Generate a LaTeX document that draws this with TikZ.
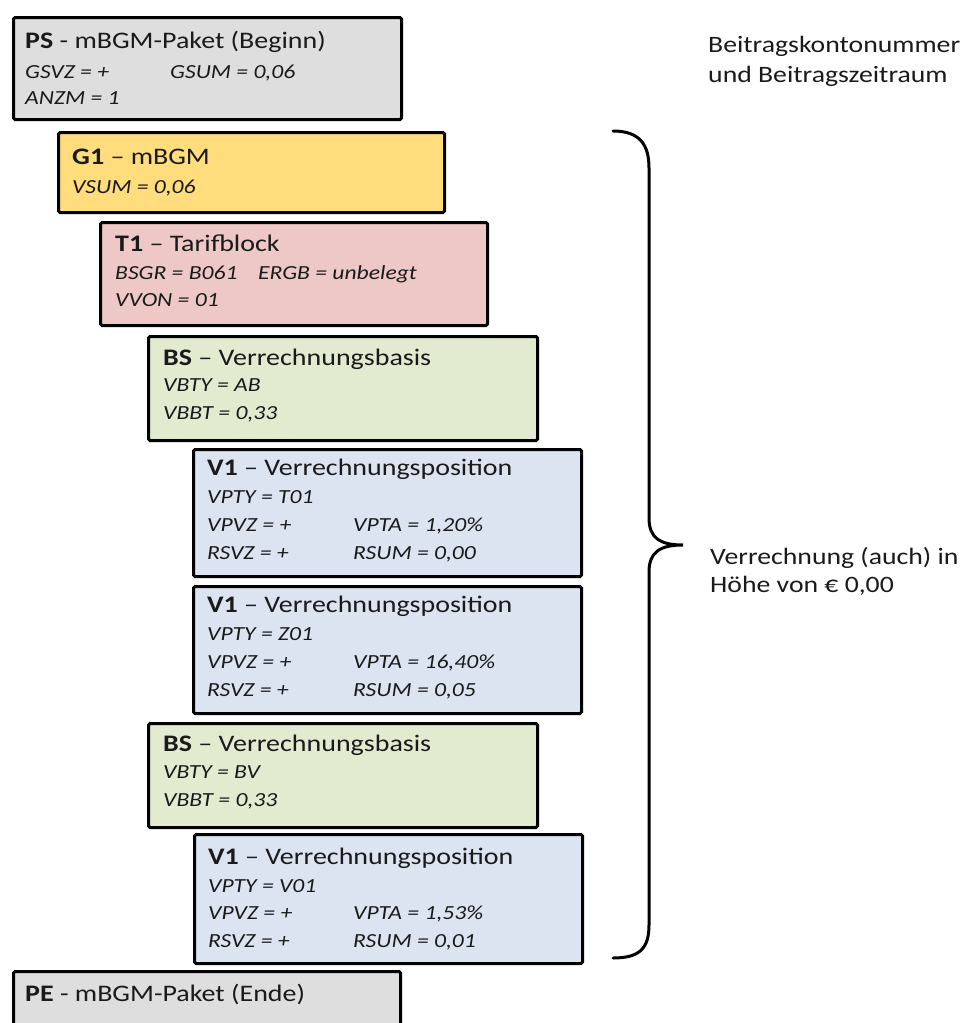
\documentclass[tikz,border=0pt]{standalone}
\usepackage{fontspec}
\setmainfont{Carlito}[FakeStretch=1.18]
\definecolor{cgray}{HTML}{DEDEDE}
\definecolor{cyellow}{HTML}{FFDC7C}
\definecolor{cpink}{HTML}{EEC7C7}
\definecolor{cgreen}{HTML}{E2EAD0}
\definecolor{cblue}{HTML}{DCE4F2}
\definecolor{ctext}{HTML}{1A1A1A}
\tikzset{
  box/.style={draw=black, line width=3pt, rounded corners=1.5pt, anchor=north west, inner sep=0pt},
  ttl/.style={anchor=base west, inner sep=0pt, text=ctext, font=\fontsize{23.7}{27}\selectfont},
  att/.style={anchor=base west, inner sep=0pt, text=ctext, font=\fontsize{20}{24}\selectfont\itshape},
  note/.style={anchor=base west, inner sep=0pt, text=ctext, font=\fontsize{23.5}{27}\selectfont},
  bracestyle/.style={draw=black, line width=3pt, line cap=round}
}
\begin{document}
\begin{tikzpicture}[x=1pt,y=-1pt]
\useasboundingbox (0,0) rectangle (965,1023);
\clip (0,0) rectangle (965,1023);
% PS
\node[box, fill=cgray, minimum width=388pt, minimum height=102pt] (ps) at (12,16) {};
\node[ttl] (pst) at (25,48) {\textbf{PS} - mBGM-Paket (Beginn)};
\node[att] (psa) at (25,78) {GSVZ = +};
\node[att] (psb) at (170,78) {GSUM = 0,06};
\node[att] (psc) at (25,104) {ANZM = 1};
% G1
\node[box, fill=cyellow, minimum width=386pt, minimum height=80pt] (g1) at (57,131) {};
\node[ttl] (g1t) at (72,164) {\textbf{G1} -- mBGM};
\node[att] (g1a) at (72,193) {VSUM = 0,06};
% T1
\node[box, fill=cpink, minimum width=387pt, minimum height=103pt] (t1) at (99,221) {};
\node[ttl] (t1t) at (115,251) {\textbf{T1} -- Tarifblock};
\node[att] (t1a) at (115,279) {BSGR = B061};
\node[att] (t1b) at (258,279) {ERGB = unbelegt};
\node[att] (t1c) at (115,306) {VVON = 01};
% BS 1
\node[box, fill=cgreen, minimum width=389pt, minimum height=104pt] (bs1) at (147,335) {};
\node[ttl] (bs1t) at (163,365) {\textbf{BS} -- Verrechnungsbasis};
\node[att] (bs1a) at (163,391) {VBTY = AB};
\node[att] (bs1b) at (163,419) {VBBT = 0,33};
% V1 a
\node[box, fill=cblue, minimum width=388pt, minimum height=127pt] (v1a) at (192,448) {};
\node[ttl] (v1at) at (207,475) {\textbf{V1} -- Verrechnungsposition};
\node[att] (v1aa) at (207,503) {VPTY = T01};
\node[att] (v1ab) at (207,531) {VPVZ = +};
\node[att] (v1ac) at (353,531) {VPTA = 1,20\%};
\node[att] (v1ad) at (207,559) {RSVZ = +};
\node[att] (v1ae) at (353,559) {RSUM = 0,00};
% V1 b
\node[box, fill=cblue, minimum width=388pt, minimum height=127pt] (v1b) at (192,585) {};
\node[ttl] (v1bt) at (207,612) {\textbf{V1} -- Verrechnungsposition};
\node[att] (v1ba) at (207,640) {VPTY = Z01};
\node[att] (v1bb) at (207,668) {VPVZ = +};
\node[att] (v1bc) at (353,668) {VPTA = 16,40\%};
\node[att] (v1bd) at (207,696) {RSVZ = +};
\node[att] (v1be) at (353,696) {RSUM = 0,05};
% BS 2
\node[box, fill=cgreen, minimum width=389pt, minimum height=104pt] (bs2) at (147,722) {};
\node[ttl] (bs2t) at (163,751) {\textbf{BS} -- Verrechnungsbasis};
\node[att] (bs2a) at (163,778) {VBTY = BV};
\node[att] (bs2b) at (163,806) {VBBT = 0,33};
% V1 c
\node[box, fill=cblue, minimum width=388pt, minimum height=129pt] (v1c) at (193,833) {};
\node[ttl] (v1ct) at (208,864) {\textbf{V1} -- Verrechnungsposition};
\node[att] (v1ca) at (208,892) {VPTY = V01};
\node[att] (v1cb) at (208,919) {VPVZ = +};
\node[att] (v1cc) at (353,919) {VPTA = 1,53\%};
\node[att] (v1cd) at (208,947) {RSVZ = +};
\node[att] (v1ce) at (353,947) {RSUM = 0,01};
% PE
\node[box, fill=cgray, minimum width=387pt, minimum height=80pt] (pe) at (12,970) {};
\node[ttl] (pet) at (25,1001) {\textbf{PE} - mBGM-Paket (Ende)};
% right notes
\node[note] (n1) at (708,52) {Beitragskontonummer};
\node[note] (n2) at (708,82) {und Beitragszeitraum};
\node[note] (n3) at (710,564) {Verrechnung (auch) in};
\node[note] (n4) at (710,592) {Höhe von € 0,00};
% brace
\coordinate (btop) at (613,131);
\coordinate (btip) at (683,545);
\coordinate (bbot) at (613,958);
\draw[bracestyle] (btop) .. controls (640,131) and (649,145) .. (649,168)
  -- (649,518) .. controls (649,538) and (660,545) .. (btip)
  .. controls (660,545) and (649,552) .. (649,572)
  -- (649,925) .. controls (649,948) and (640,958) .. (bbot);
\end{tikzpicture}
\end{document}
